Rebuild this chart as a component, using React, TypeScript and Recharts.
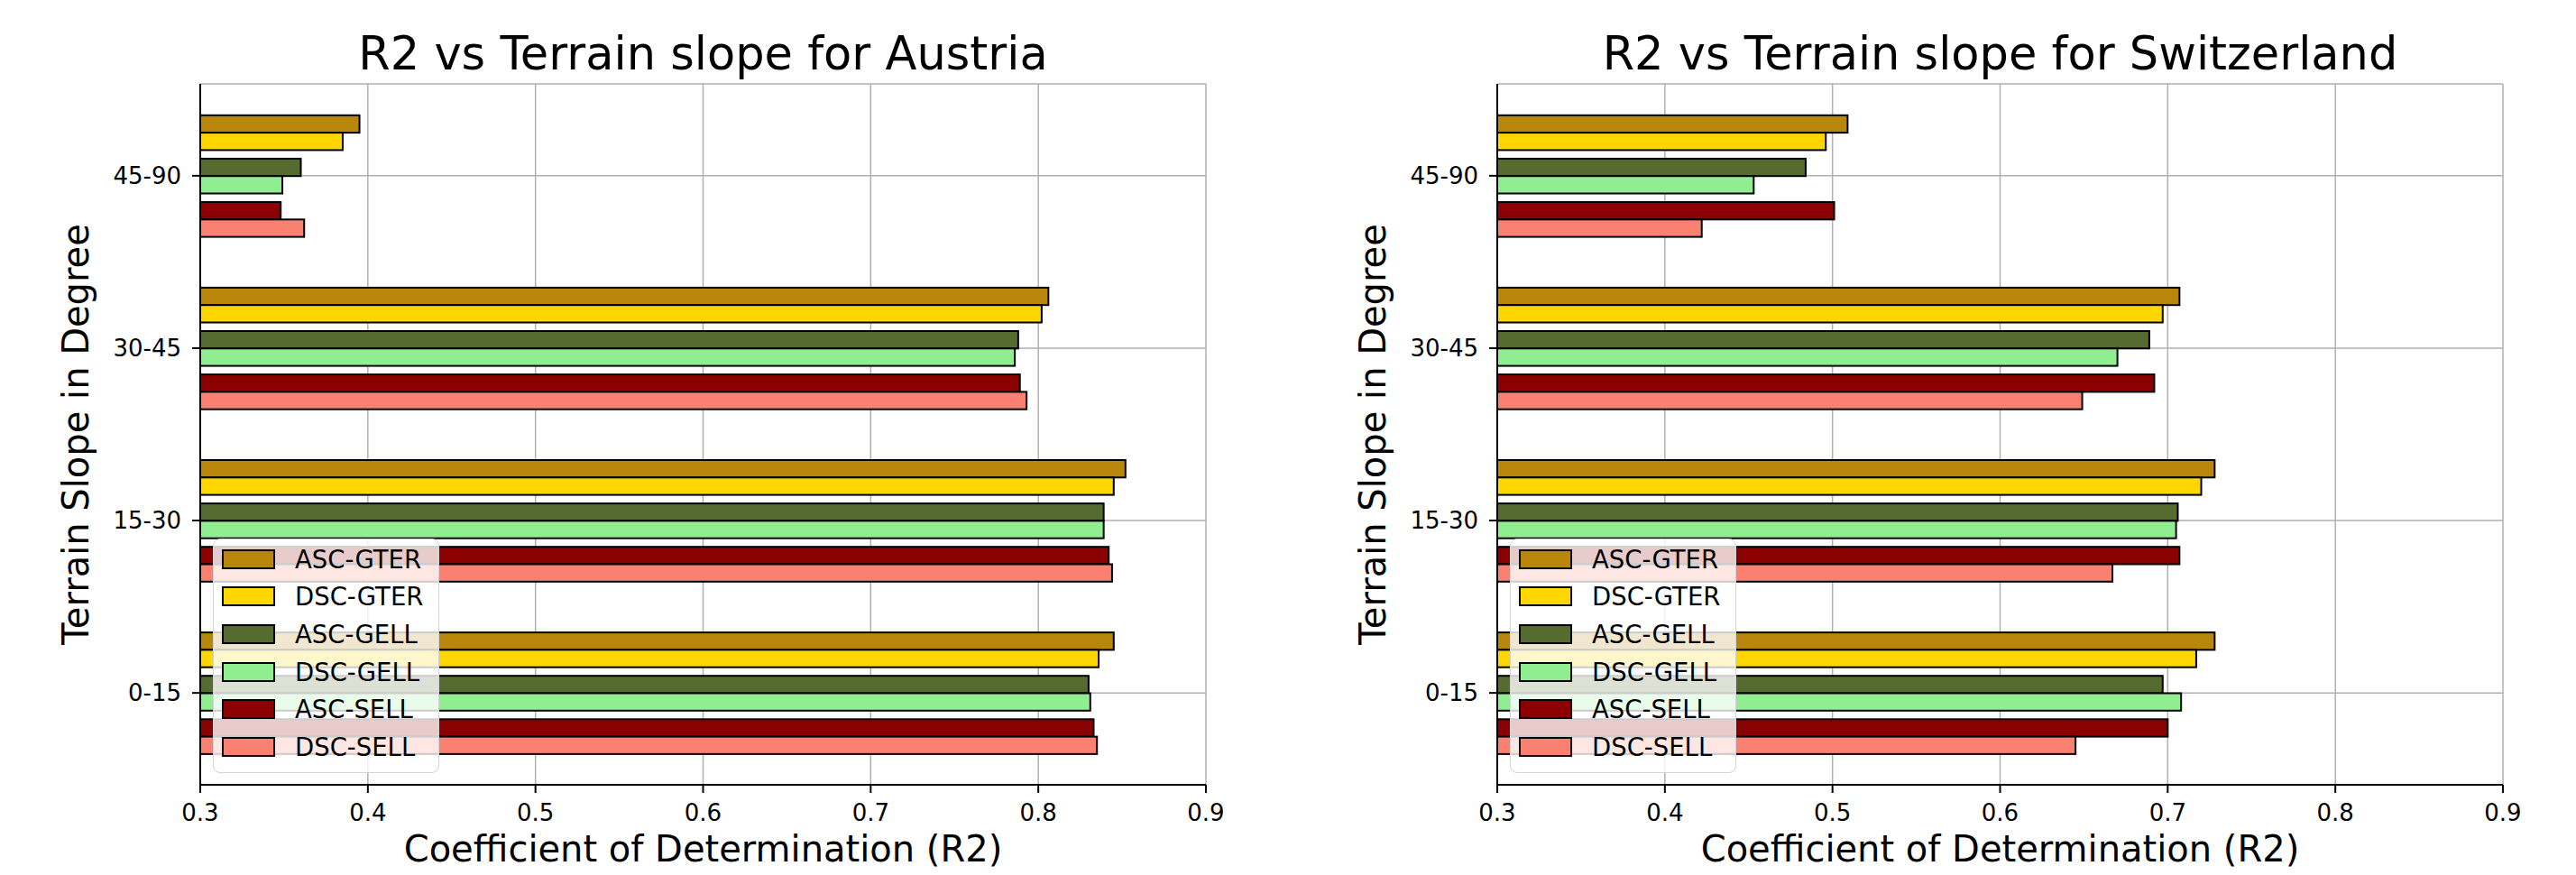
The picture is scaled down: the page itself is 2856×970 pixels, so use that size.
import React from "react";
import { Bar, BarChart, CartesianGrid, Legend, XAxis, YAxis } from "recharts";

const slopes = ["0-15", "15-30", "30-45", "45-90"];
const seriesNames = ["ASC-GTER", "DSC-GTER", "ASC-GELL", "DSC-GELL", "ASC-SELL", "DSC-SELL"];
const seriesColors = ["#b8860b", "#ffd700", "#556b2f", "#90ee90", "#8b0000", "#fa8072"];
const xTicks = [0.3, 0.4, 0.5, 0.6, 0.7, 0.8, 0.9];

// Austria, values per slope class (0-15, 15-30, 30-45, 45-90)
const austriaAscGter = [0.845, 0.852, 0.806, 0.395];
const austriaDscGter = [0.836, 0.845, 0.802, 0.385];
const austriaAscGell = [0.83, 0.839, 0.788, 0.36];
const austriaDscGell = [0.831, 0.839, 0.786, 0.349];
const austriaAscSell = [0.833, 0.842, 0.789, 0.348];
const austriaDscSell = [0.835, 0.844, 0.793, 0.362];

// Switzerland
const swissAscGter = [0.728, 0.728, 0.707, 0.509];
const swissDscGter = [0.717, 0.72, 0.697, 0.496];
const swissAscGell = [0.697, 0.706, 0.689, 0.484];
const swissDscGell = [0.708, 0.705, 0.67, 0.453];
const swissAscSell = [0.7, 0.707, 0.692, 0.501];
const swissDscSell = [0.645, 0.667, 0.649, 0.422];

const FONT = "'DejaVu Sans', sans-serif";
const AXIS_W = 222;
const PLOT_TOP = 93;
const X_AXIS_H = 100;
const BAR_H = 19.3;
// ASC/DSC pairs sit together, a small gap between the pairs
const pairShift = [-9.5, -9.5, 0, 0, 9.5, 9.5];

function buildRows(series: number[][]) {
  return slopes.map((slope, i) => {
    const row: Record<string, string | number> = { slope };
    seriesNames.forEach((name, s) => {
      row[name] = series[s][i];
    });
    return row;
  });
}

const austriaRows = buildRows([
  austriaAscGter,
  austriaDscGter,
  austriaAscGell,
  austriaDscGell,
  austriaAscSell,
  austriaDscSell
]);
const swissRows = buildRows([
  swissAscGter,
  swissDscGter,
  swissAscGell,
  swissDscGell,
  swissAscSell,
  swissDscSell
]);

function shiftedBar(shift: number) {
  return (props: any) => (
    <rect
      x={props.x}
      y={props.y + shift}
      width={props.width}
      height={props.height}
      fill={props.fill}
      stroke="#000"
      strokeWidth={2}
    />
  );
}

function LegendBox(props: any) {
  const payload = [...(props.payload || [])].sort(
    (a: any, b: any) => seriesNames.indexOf(a.value) - seriesNames.indexOf(b.value)
  );
  return (
    <div
      style={{
        background: "rgba(255,255,255,0.8)",
        border: "1.5px solid #d4d4d4",
        borderRadius: 8,
        boxSizing: "border-box",
        width: 251,
        height: 260,
        paddingTop: 1,
        fontFamily: FONT
      }}
    >
      {payload.map((p: any) => (
        <div key={p.value} style={{ height: 41.6, display: "flex", alignItems: "center" }}>
          <span
            style={{
              display: "inline-block",
              marginLeft: 9,
              width: 59,
              height: 22,
              background: p.color,
              border: "2px solid #000",
              boxSizing: "border-box"
            }}
          />
          <span style={{ marginLeft: 22, fontSize: 27.5, color: "#000", lineHeight: "30px" }}>
            {p.value}
          </span>
        </div>
      ))}
    </div>
  );
}

type PanelProps = {
  title: string;
  rows: Array<Record<string, string | number>>;
  left: number;
  width: number;
  marginRight: number;
};

function Panel({ title, rows, left, width, marginRight }: PanelProps) {
  const plotW = width - AXIS_W - marginRight;
  return (
    <div style={{ position: "absolute", left, top: 0, width, height: 970 }}>
      <div
        style={{
          position: "absolute",
          left: AXIS_W,
          top: 35,
          width: plotW,
          textAlign: "center",
          fontFamily: FONT,
          fontSize: 51,
          lineHeight: "50px",
          color: "#000",
          whiteSpace: "nowrap"
        }}
      >
        {title}
      </div>
      <BarChart
        width={width}
        height={970}
        data={rows}
        layout="vertical"
        barGap={0}
        barSize={BAR_H}
        margin={{ top: PLOT_TOP, right: marginRight, bottom: 0, left: 0 }}
      >
        <XAxis
          type="number"
          domain={[0.3, 0.9]}
          ticks={xTicks}
          tickFormatter={(v: number) => v.toFixed(1)}
          height={X_AXIS_H}
          axisLine={{ stroke: "#000", strokeWidth: 2 }}
          tickLine={{ stroke: "#000", strokeWidth: 2 }}
          tickSize={9}
          tickMargin={13}
          tick={{ fill: "#000", fontSize: 26, fontFamily: FONT }}
          label={{
            value: "Coefficient of Determination (R2)",
            position: "insideBottom",
            offset: 15,
            fill: "#000",
            fontSize: 40,
            fontFamily: FONT
          }}
        />
        <XAxis
          xAxisId="top"
          orientation="top"
          type="number"
          domain={[0.3, 0.9]}
          ticks={xTicks}
          height={0}
          tick={false}
          tickLine={false}
          axisLine={{ stroke: "#000", strokeWidth: 2 }}
        />
        <YAxis
          type="category"
          dataKey="slope"
          reversed
          width={AXIS_W}
          padding={{ top: 6.3, bottom: 6.3 }}
          axisLine={{ stroke: "#000", strokeWidth: 2 }}
          tickLine={{ stroke: "#000", strokeWidth: 2 }}
          tickSize={9}
          tickMargin={12}
          tick={{ fill: "#000", fontSize: 26, fontFamily: FONT }}
          label={{
            value: "Terrain Slope in Degree",
            angle: -90,
            position: "insideLeft",
            offset: 84,
            fill: "#000",
            fontSize: 40,
            fontFamily: FONT,
            style: { textAnchor: "middle" }
          }}
        />
        <YAxis
          yAxisId="right"
          orientation="right"
          type="category"
          dataKey="slope"
          reversed
          width={0}
          tick={false}
          tickLine={false}
          axisLine={{ stroke: "#000", strokeWidth: 2 }}
        />
        {seriesNames.map((name, i) => (
          <Bar
            key={name}
            dataKey={name}
            name={name}
            fill={seriesColors[i]}
            stroke="#000"
            strokeWidth={2}
            shape={shiftedBar(pairShift[i])}
            isAnimationActive={false}
          />
        ))}
        <CartesianGrid stroke="#b0b0b0" strokeWidth={1.5} fill="none" />
        <Legend
          layout="vertical"
          align="center"
          verticalAlign="middle"
          itemSorter={(item: any) => seriesNames.indexOf(item.value)}
          content={<LegendBox />}
          wrapperStyle={{ left: 236, top: 597, width: 251, height: 260 }}
        />
      </BarChart>
    </div>
  );
}

export default function App() {
  return (
    <div style={{ position: "relative", width: 2856, height: 970, background: "#fff", overflow: "hidden" }}>
      <style>{"body{margin:0}"}</style>
      <div
        style={{
          position: "absolute",
          left: 300,
          top: -75,
          fontFamily: FONT,
          fontWeight: "bold",
          fontSize: 60,
          lineHeight: "60px",
          color: "#000"
        }}
      >
        g
      </div>
      <Panel title="R2 vs Terrain slope for Austria" rows={austriaRows} left={0} width={1400} marginRight={63} />
      <Panel
        title="R2 vs Terrain slope for Switzerland"
        rows={swissRows}
        left={1438}
        width={1418}
        marginRight={81}
      />
    </div>
  );
}
